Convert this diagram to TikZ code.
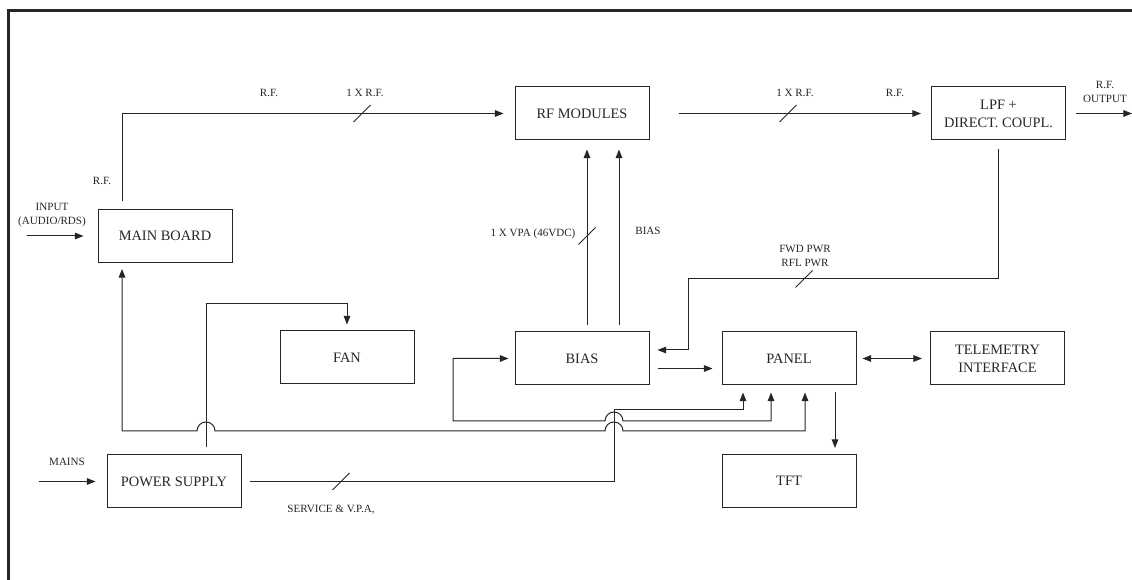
\documentclass[tikz,border=0pt]{standalone}
\usepackage{fontspec}
\setmainfont{Liberation Serif}
\usepackage{tikz}
\usetikzlibrary{arrows.meta,calc}
\newcommand{\busmark}[1]{\draw[thinline] (#1) +(-8.5,8.5) -- +(8.5,-8.5);}
\tikzset{
  blockbox/.style  = {draw=black!85, line width=0.75pt, minimum width=100.5pt,
                      minimum height=39.75pt, inner sep=0pt, align=center,
                      text=black!85, font=\fontsize{10.8}{13.5}\selectfont},
  thinline/.style  = {line width=0.75pt, draw=black!85},
  sigarr/.style    = {thinline, -{Triangle[length=6.5pt,width=5pt]}},
  duplexarr/.style = {thinline, {Triangle[length=6.5pt,width=5pt]}-{Triangle[length=6.5pt,width=5pt]}},
  smalltext/.style = {inner sep=0pt, align=center, text=black!85,
                      font=\fontsize{8.3}{10.5}\selectfont}
}
\begin{document}
\begin{tikzpicture}[x=0.75pt,y=-0.75pt]
  \useasboundingbox (0,0) rectangle (1132,580);
  % --- frame
  \draw[line width=2.25pt, black!85] (8.5,580) -- (8.5,10.5) -- (1132,10.5);
  % --- blocks
  \node[blockbox] (main)  at (165,236)     {MAIN BOARD};
  \node[blockbox] (rfmod) at (582,113.5)   {RF MODULES};
  \node[blockbox] (lpf)   at (998.5,113.5) {LPF +\\DIRECT. COUPL.};
  \node[blockbox] (fan)   at (347,357.5)   {FAN};
  \node[blockbox] (bias)  at (582,358.5)   {BIAS};
  \node[blockbox] (panel) at (789,358.5)   {PANEL};
  \node[blockbox] (telem) at (997.5,358.5) {TELEMETRY\\INTERFACE};
  \node[blockbox] (pwr)   at (174,481.5)   {POWER SUPPLY};
  \node[blockbox] (tft)   at (789,481)     {TFT};
  % --- free ends
  \coordinate (audioin) at (27,236);
  \coordinate (mainsin) at (39,481.5);
  \coordinate (rfout)   at (1132,113.5);
  % --- inputs
  \draw[sigarr, shorten >=10.5pt] (audioin) -- (main.west);
  \node[smalltext] (inputlbl) at (52,215) {INPUT\\(AUDIO/RDS)};
  \draw[sigarr, shorten >=8.25pt] (mainsin) -- (pwr.west);
  \node[smalltext] (mainslbl) at (67,462) {MAINS};
  % --- RF chain
  \draw[sigarr] ($(main.north)+(-43,-8)$) |- ($(rfmod.west)+(-11,0)$);
  \busmark{362,113.5}
  \node[smalltext] (rflbla) at (102,181) {R.F.};
  \node[smalltext] (rflblb) at (269,93)  {R.F.};
  \node[smalltext] (rflblc) at (365,93)  {1 X R.F.};
  \draw[sigarr] ($(rfmod.east)+(29,0)$) -- ($(lpf.west)+(-10,0)$);
  \busmark{788,113.5}
  \node[smalltext] (rflbld) at (795,93)  {1 X R.F.};
  \node[smalltext] (rflble) at (895,93)  {R.F.};
  \draw[sigarr, shorten <=7.5pt] (lpf.east) -- (rfout);
  \node[smalltext] (outlbl) at (1105,92) {R.F.\\OUTPUT};
  % --- supply and bias to the modules
  \draw[sigarr] ($(bias.north)+(5,-6)$) -- ($(rfmod.south)+(5,9)$);
  \draw[sigarr] ($(bias.north)+(37,-6)$) -- ($(rfmod.south)+(37,9)$);
  \busmark{587,236}
  \node[smalltext] (vpalbl)  at (533,234) {1 X VPA (46VDC)};
  \node[smalltext] (biaslbl) at (648,231) {BIAS};
  % --- forward / reflected power
  \draw[sigarr] ($(lpf.south)+(0,9)$) |- (688,279) |- ($(bias.east)+(8,-8.5)$);
  \busmark{804,279}
  \node[smalltext] (fwdlbl) at (805,256) {FWD PWR\\RFL PWR};
  % --- panel links
  \draw[sigarr] ($(bias.east)+(8,10)$) -- ($(panel.west)+(-9,10)$);
  \draw[duplexarr] ($(panel.east)+(6,0)$) -- ($(telem.west)+(-8,0)$);
  \draw[sigarr] ($(panel.south)+(46,7)$) -- ($(tft.north)+(46,-6)$);
  % --- power distribution
  \draw[sigarr] ($(pwr.north)+(32,-7)$) |- ($(fan.north)+(0,-27)$) -- ($(fan.north)+(0,-6)$);
  \draw[sigarr] ($(pwr.east)+(8,0)$) -- (614,481.5) |- ($(panel.south)+(-46,24)$)
        -- ($(panel.south)+(-46,7)$);
  \busmark{341,481.5}
  \node[smalltext] (svclbl) at (331,510) {SERVICE \& V.P.A,};
  % --- panel to bias and main board, hopping over the supply lines
  \draw[duplexarr] ($(panel.south)+(-18,7)$) |- (623,421)
        arc[start angle=0, end angle=180, radius=6.75pt] -- (453,421)
        |- ($(bias.west)+(-6,0)$);
  \draw[duplexarr] ($(panel.south)+(16,7)$) |- (623,431)
        arc[start angle=0, end angle=180, radius=6.75pt] -- (215,431)
        arc[start angle=0, end angle=180, radius=6.75pt] -- (122,431)
        -- ($(main.south)+(-43,6)$);
\end{tikzpicture}
\end{document}
